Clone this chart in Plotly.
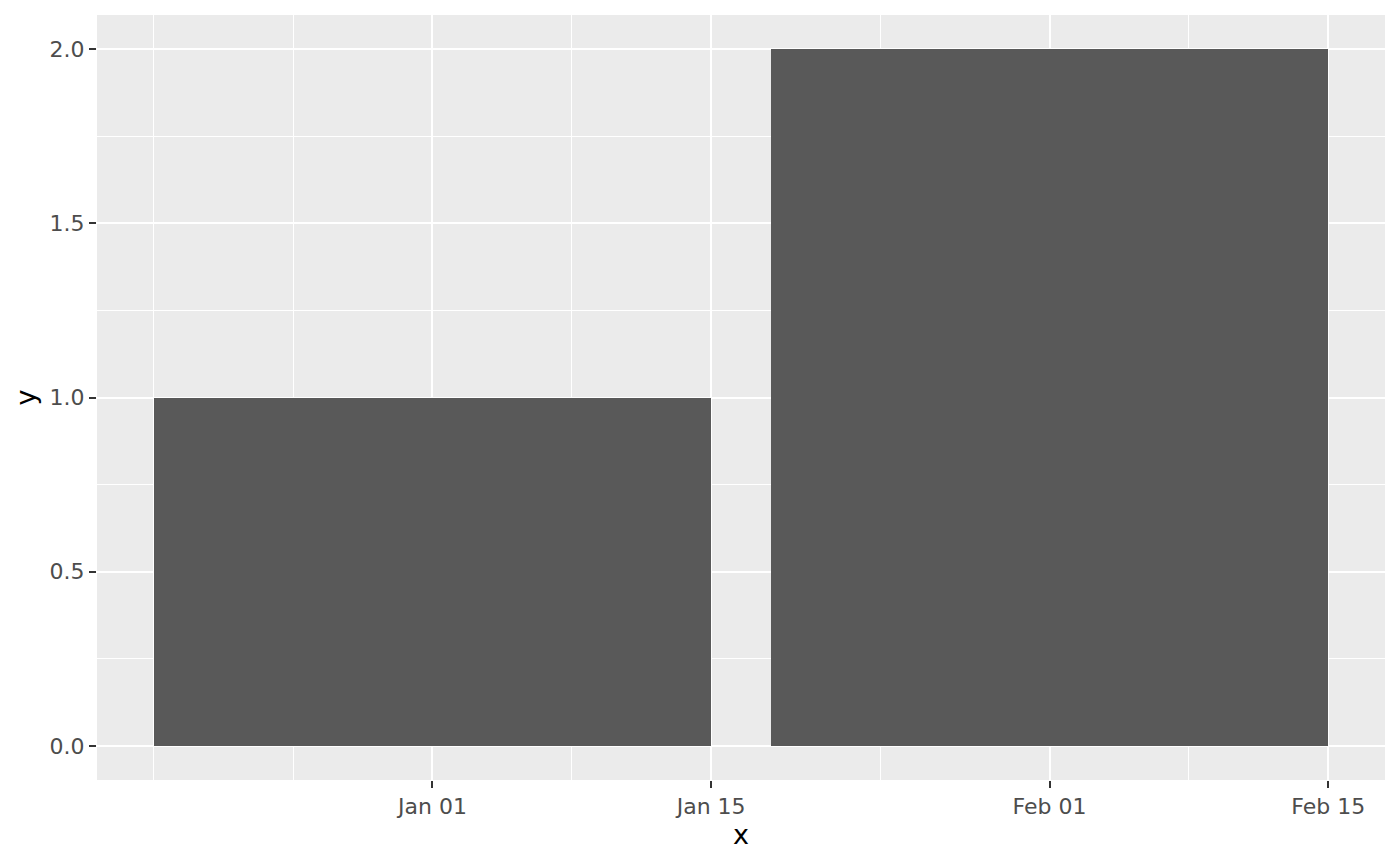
import plotly.graph_objects as go
import pandas as pd

# Data
x_dates = ["2020-01-01", "2020-02-01"]
y_values = [1, 2]
bar_width_days = 28

x_tick_vals = ["2020-01-01", "2020-01-15", "2020-02-01", "2020-02-15"]
x_tick_text = ["Jan 01", "Jan 15", "Feb 01", "Feb 15"]
x_minor_vals = ["2019-12-18 00:00", "2019-12-25 00:00", "2020-01-08 00:00", "2020-01-23 12:00", "2020-02-08 00:00"]
y_tick_vals = [0, 0.5, 1.0, 1.5, 2.0]
y_tick_text = ["0.0", "0.5", "1.0", "1.5", "2.0"]
y_minor_vals = [0.25, 0.75, 1.25, 1.75]

day_ms = 86400000
fig = go.Figure()
fig.add_trace(go.Bar(
    x=pd.to_datetime(x_dates),
    y=y_values,
    width=[bar_width_days * day_ms] * len(x_dates),
    marker=dict(color="#595959", line=dict(width=0)),
    showlegend=False,
    hoverinfo="x+y",
))

# axis ranges with a small expansion around the data
data_lo = pd.Timestamp(x_dates[0]) - pd.Timedelta(days=bar_width_days / 2)
data_hi = pd.Timestamp(x_dates[-1]) + pd.Timedelta(days=bar_width_days / 2)
pad = pd.Timedelta(days=2.85)
xr = [data_lo - pad, data_hi + pad]
ymax = max(y_values)
yr = [-0.049 * ymax, ymax * 1.049]

font_family = "DejaVu Sans, Liberation Sans, sans-serif"
fig.update_layout(
    width=1400, height=866,
    margin=dict(l=89, r=23, t=7, b=94),
    paper_bgcolor="white",
    plot_bgcolor="#EBEBEB",
    bargap=0,
    font=dict(family=font_family),
)
fig.update_xaxes(
    type="date",
    range=xr,
    tickvals=pd.to_datetime(x_tick_vals),
    ticktext=x_tick_text,
    tickfont=dict(size=22, color="#4D4D4D"),
    ticks="outside", ticklen=7, tickwidth=2, tickcolor="#333333",
    showgrid=True, gridcolor="white", gridwidth=2.2,
    minor=dict(tickvals=pd.to_datetime(x_minor_vals), showgrid=True, gridcolor="white", gridwidth=1.1, ticks=""),
    zeroline=False, showline=False,
    title=dict(text="x", font=dict(size=27, color="black"), standoff=6),
)
fig.update_yaxes(
    range=yr,
    tickvals=y_tick_vals,
    ticktext=y_tick_text,
    tickfont=dict(size=22, color="#4D4D4D"),
    ticks="outside", ticklen=7, tickwidth=2, tickcolor="#333333",
    showgrid=True, gridcolor="white", gridwidth=2.2,
    minor=dict(tickvals=y_minor_vals, showgrid=True, gridcolor="white", gridwidth=1.1, ticks=""),
    zeroline=False, showline=False,
    title=dict(text="y", font=dict(size=27, color="black"), standoff=6),
)

fig.write_html("out.html")
